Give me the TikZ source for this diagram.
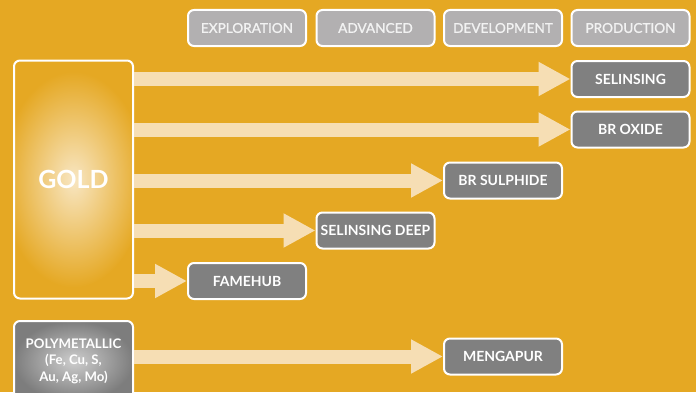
\documentclass[tikz,border=0pt]{standalone}
\usepackage{fontspec}
\setmainfont{Lato}
\newfontfamily\headfont[FakeBold=1.2]{Lato}
\usetikzlibrary{arrows.meta}
\definecolor{bggold}{RGB}{229,168,35}
\definecolor{glow}{RGB}{248,230,194}
\definecolor{arrowcol}{RGB}{246,222,180}
\definecolor{headfill}{RGB}{178,176,177}
\definecolor{headtext}{RGB}{242,242,242}
\definecolor{darkbox}{RGB}{128,128,128}
\definecolor{polyin}{RGB}{205,205,205}
\definecolor{polyout}{RGB}{125,125,125}
\tikzset{
  x=1pt, y=1pt,
  stagebox/.style={draw=white, line width=2pt, rounded corners=6pt, fill=headfill,
    minimum width=118pt, minimum height=36pt, inner sep=0pt, text=headtext,
    font=\headfont\fontsize{13.6}{16}\selectfont},
  projbox/.style={draw=white, line width=2pt, rounded corners=6pt, fill=darkbox,
    minimum width=118pt, minimum height=36pt, inner sep=0pt, text=white,
    font=\bfseries\fontsize{14}{16}\selectfont},
  flow/.style={arrowcol, line width=14pt, -{Triangle[width=32pt,length=32pt]}}
}
\begin{document}
\begin{tikzpicture}
\useasboundingbox (0,0) rectangle (696,392);
\clip (0,0) rectangle (696,392);
\fill[bggold] (0,0) rectangle (696,392);

% stage headers
\node[stagebox] (expl) at (247,364) {EXPLORATION};
\node[stagebox] (adv) at (375.5,364) {ADVANCED};
\node[stagebox] (dev) at (503,364) {DEVELOPMENT};
\node[stagebox] (prod) at (630.5,364) {PRODUCTION};

% gold box
\begin{scope}
\clip[rounded corners=6pt] (14,93.5) rectangle (133,331.5);
\fill[bggold] (14,93.5) rectangle (133,331.5);
\shade[inner color=glow, outer color=bggold] (73.5,212.5) ellipse (72 and 108);
\end{scope}
\node[draw=white, line width=2pt, rounded corners=6pt, minimum width=119pt, minimum height=238pt,
  inner sep=0pt, text=white, font=\bfseries\fontsize{25}{28}\selectfont] (gold) at (73.5,212.5) {GOLD};

% polymetallic box
\node[draw=white, line width=2pt, rounded corners=6pt, minimum width=119pt, minimum height=80pt,
  inner sep=0pt, inner color=polyin, outer color=polyout, text=white, align=center,
  font=\bfseries\fontsize{13.2}{16.5}\selectfont] (poly) at (73.5,31)
  {POLYMETALLIC\\(Fe, Cu, S,\\Au, Ag, Mo)};

% project boxes
\node[projbox] (sel) at (630.5,313) {SELINSING};
\node[projbox] (brox) at (630.5,262.5) {BR OXIDE};
\node[projbox] (brsul) at (503,211.5) {BR SULPHIDE};
\node[projbox] (seldeep) at (375.5,161.5) {SELINSING DEEP};
\node[projbox] (fame) at (247,111) {FAMEHUB};
\node[projbox] (meng) at (503,35.5) {MENGAPUR};

% flows
\draw[flow] (gold.east |- sel.west) -- (sel.west);
\draw[flow] (gold.east |- brox.west) -- (brox.west);
\draw[flow] (gold.east |- brsul.west) -- (brsul.west);
\draw[flow] (gold.east |- seldeep.west) -- (seldeep.west);
\draw[flow] (gold.east |- fame.west) -- (fame.west);
\draw[flow] (poly.east |- meng.west) -- (meng.west);
\end{tikzpicture}
\end{document}
